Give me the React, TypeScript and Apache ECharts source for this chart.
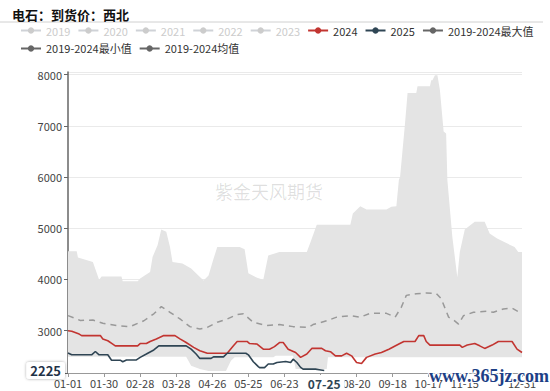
import React, { useEffect, useRef } from "react";
import * as echarts from "echarts";

// ---- data (day index from 01-01, value) ----
const legendYears = ["2019", "2020", "2021", "2022", "2023"];

const maxSeries: [number, number][] = [
  [0, 4550], [7, 4550], [8, 4430], [20, 4340], [25, 3995], [27, 4060], [43, 4060], [44, 3967],
  [56, 3967], [58, 4020], [66, 4145], [68, 4440], [72, 4670], [75, 4975], [79, 4930], [82, 4635],
  [84, 4340], [92, 4310], [99, 4215], [109, 3980], [113, 4080], [117, 4405], [120, 4635], [138, 4635],
  [142, 4590], [145, 4120], [152, 4035], [157, 3995], [161, 4470], [170, 4535], [192, 4535],
  [195, 4730], [200, 5070], [227, 5070], [229, 5290], [235, 5430], [240, 5365], [256, 5365],
  [260, 5420], [264, 5430], [266, 5940], [267, 6005], [271, 7060], [273, 7640], [280, 7640],
  [281, 7770], [291, 7770], [292, 7890], [293, 7890], [295, 7985], [297, 7985], [299, 7700],
  [302, 6890], [304, 6850], [305, 5940], [309, 4830], [313, 4045], [315, 4535], [319, 4975],
  [327, 5125], [335, 5125], [339, 4900], [345, 4800], [352, 4715], [359, 4635], [362, 4535], [365, 4535],
];

const minSeries: [number, number][] = [
  [0, 2490], [95, 2490], [99, 2315], [106, 2255], [113, 2215], [127, 2215], [131, 2415], [134, 2480],
  [165, 2480], [167, 2510], [181, 2510], [183, 2255], [208, 2255], [209, 2480], [365, 2480],
];

const avgSeries: [number, number][] = [
  [0, 3295], [10, 3200], [20, 3210], [28, 3145], [39, 3100], [50, 3080], [61, 3195], [69, 3330],
  [75, 3470], [82, 3360], [90, 3230], [98, 3080], [106, 3035], [112, 3065], [120, 3165], [128, 3230],
  [136, 3315], [141, 3330], [149, 3165], [160, 3100], [170, 3120], [181, 3080], [193, 3065],
  [197, 3120], [208, 3195], [216, 3265], [227, 3295], [235, 3265], [243, 3340], [256, 3340],
  [263, 3265], [268, 3460], [272, 3690], [280, 3720], [288, 3735], [296, 3730], [300, 3625],
  [306, 3265], [310, 3210], [314, 3130], [318, 3295], [326, 3360], [337, 3380], [342, 3360],
  [350, 3425], [357, 3440], [363, 3360], [365, 3330],
];

const series2024: [number, number][] = [
  [0, 3000], [3, 2990], [9, 2935], [11, 2905], [26, 2905], [28, 2840], [32, 2805], [36, 2740],
  [38, 2705], [56, 2705], [58, 2750], [63, 2750], [66, 2790], [71, 2840], [77, 2905], [86, 2905],
  [90, 2840], [95, 2770], [101, 2675], [106, 2610], [112, 2560], [128, 2560], [133, 2705],
  [136, 2790], [144, 2790], [146, 2750], [152, 2740], [157, 2640], [162, 2640], [166, 2690],
  [170, 2770], [173, 2770], [177, 2640], [183, 2575], [187, 2480], [192, 2545], [196, 2655],
  [204, 2655], [207, 2610], [211, 2590], [215, 2510], [220, 2510], [224, 2560], [228, 2510],
  [232, 2380], [236, 2360], [240, 2480], [247, 2545], [252, 2575], [258, 2640], [266, 2740],
  [270, 2790], [279, 2790], [282, 2905], [286, 2905], [288, 2790], [291, 2720], [315, 2720],
  [317, 2675], [321, 2720], [327, 2750], [331, 2705], [335, 2655], [341, 2720], [346, 2790],
  [357, 2790], [361, 2640], [365, 2575],
];

const series2025: [number, number][] = [
  [0, 2565], [3, 2530], [19, 2530], [22, 2595], [25, 2530], [32, 2530], [35, 2425], [42, 2425],
  [44, 2395], [47, 2430], [55, 2430], [58, 2480], [63, 2545], [69, 2625], [73, 2705], [95, 2705],
  [99, 2640], [103, 2545], [106, 2460], [115, 2460], [117, 2490], [125, 2490], [128, 2560],
  [143, 2560], [145, 2530], [149, 2395], [153, 2300], [154, 2280], [158, 2280], [161, 2350],
  [165, 2350], [168, 2380], [175, 2400], [179, 2380], [181, 2445], [184, 2380], [187, 2285],
  [189, 2250], [199, 2250], [202, 2240], [206, 2225],
];

const pointerDay = 206;
const pointerValue = 2225;

const BASE = Date.UTC(2024, 0, 1);
const pad = (n: number) => (n < 10 ? "0" + n : "" + n);
function fmtDay(i: number): string {
  const d = new Date(BASE + Math.round(i) * 86400000);
  return pad(d.getUTCMonth() + 1) + "-" + pad(d.getUTCDate());
}

const FONT = "'Microsoft YaHei', 'Noto Sans CJK SC', sans-serif";

export default function App() {
  const ref = useRef<HTMLDivElement>(null);
  useEffect(() => {
    document.body.style.margin = "0";
    const chart = echarts.init(ref.current!, undefined, { renderer: "svg" });
    const grayItem = (name: string) => ({
      name,
      itemStyle: { color: "#666" },
      lineStyle: { color: "#666", width: 2, type: "solid", opacity: 1 },
    });
    const option: any = {
      animation: false,
      textStyle: { fontFamily: FONT },
      title: {
        text: "电石：到货价：西北",
        left: 7,
        top: 3,
        textStyle: { fontSize: 13, fontWeight: "bold", color: "#111", fontFamily: FONT },
      },
      graphic: [
        { type: "line", shape: { x1: 0, y1: 22, x2: 543, y2: 22 }, style: { stroke: "#d0d0d0", lineWidth: 1 } },
        {
          type: "text", left: 215, top: 182, z: 0,
          style: { text: "紫金天风期货", fontSize: 18, fill: "rgba(0,0,0,0.13)", fontFamily: FONT },
        },
        {
          type: "text", left: 428, top: 366, z: 100,
          style: {
            text: "www.365jz.com", fontSize: 18, fontWeight: "bold", fill: "#1d3f86",
            fontFamily: "'Liberation Serif', 'DejaVu Serif', serif", stroke: "#fff", lineWidth: 2,
          },
        },
      ],
      legend: {
        left: 15,
        right: 22,
        top: 20,
        itemWidth: 20,
        itemHeight: 8,
        itemGap: 7,
        inactiveColor: "#ccc",
        textStyle: { fontSize: 11, color: "#333", fontFamily: FONT },
        selected: { "2019": false, "2020": false, "2021": false, "2022": false, "2023": false },
        data: [
          ...legendYears,
          "2024",
          "2025",
          grayItem("2019-2024最大值"),
          grayItem("2019-2024最小值"),
          grayItem("2019-2024均值"),
        ],
      },
      grid: { left: 68, right: 28, top: 72, bottom: 18 },
      xAxis: {
        type: "value",
        min: 0,
        max: 365,
        interval: 29,
        axisLine: { show: true, lineStyle: { color: "#999" } },
        axisTick: { show: true, length: 4, lineStyle: { color: "#999" } },
        splitLine: { show: false },
        axisLabel: {
          fontSize: 11,
          color: "#444",
          margin: 4,
          formatter: (v: number) => (v === 348 ? "" : fmtDay(v)),
        },
        axisPointer: {
          show: true,
          status: "show",
          value: pointerDay,
          snap: false,
          triggerTooltip: false,
          lineStyle: { opacity: 0 },
          label: {
            show: true,
            margin: 2,
            formatter: (p: any) => fmtDay(p.value),
            backgroundColor: "#fff",
            color: "#2f4554",
            fontWeight: "bold",
            fontSize: 12,
            padding: [2, 4],
          },
        },
      },
      yAxis: {
        type: "value",
        min: 2175,
        max: 8050,
        axisLine: { show: true, lineStyle: { color: "#666", width: 1.5 } },
        axisTick: { show: true, length: 4, lineStyle: { color: "#666" } },
        splitLine: { show: true, lineStyle: { color: "#eaeaea" } },
        axisLabel: { fontSize: 11, color: "#444", margin: 6, formatter: (v: number) => String(v) },
        axisPointer: {
          show: true,
          status: "show",
          value: pointerValue,
          snap: false,
          triggerTooltip: false,
          lineStyle: { opacity: 0 },
          label: {
            show: true,
            formatter: (p: any) => String(Math.round(p.value)),
            backgroundColor: "#fff",
            color: "#1f3247",
            fontWeight: "bold",
            fontSize: 13,
            padding: [2, 4],
            borderRadius: 3,
            shadowBlur: 3,
            shadowColor: "rgba(0,0,0,0.35)",
          },
        },
      },
      series: [
        ...legendYears.map((y) => ({ name: y, type: "line", data: [], symbol: "circle", showSymbol: false })),
        {
          name: "2019-2024最大值", type: "line", data: maxSeries, color: "#666",
          symbol: "circle", showSymbol: false, lineStyle: { width: 0 },
          areaStyle: { color: "#e4e4e4", opacity: 1 }, z: 1,
        },
        {
          name: "2019-2024最小值", type: "line", data: minSeries, color: "#666",
          symbol: "circle", showSymbol: false, lineStyle: { width: 0 },
          areaStyle: { color: "#ffffff", opacity: 1 }, z: 1,
        },
        {
          name: "2019-2024均值", type: "line", data: avgSeries, color: "#666",
          symbol: "circle", showSymbol: false,
          lineStyle: { width: 1.5, type: [6, 5], color: "#999" }, z: 2,
        },
        {
          name: "2024", type: "line", data: series2024, color: "#c23531",
          symbol: "circle", showSymbol: false, lineStyle: { width: 1.6 }, z: 3,
        },
        {
          name: "2025", type: "line", data: series2025, color: "#2f4554",
          symbol: "circle", showSymbol: false, lineStyle: { width: 1.6 }, z: 4,
        },
      ],
    };
    chart.setOption(option);
    return () => chart.dispose();
  }, []);
  return <div ref={ref} style={{ width: 550, height: 391 }} />;
}
